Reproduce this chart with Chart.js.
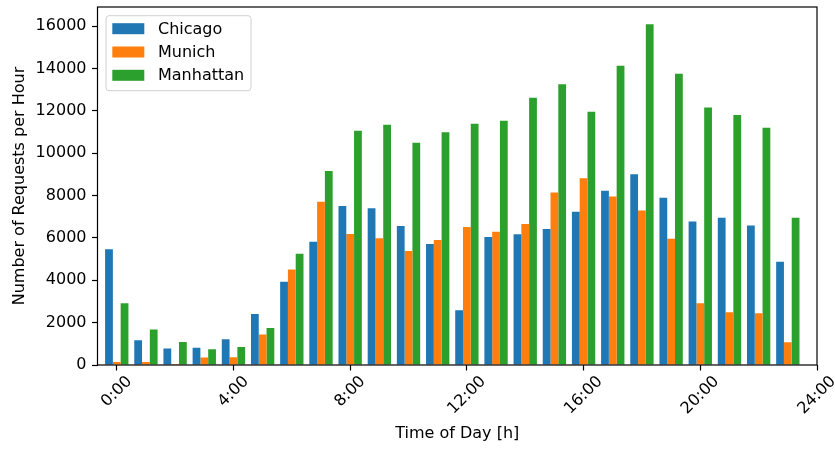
<!DOCTYPE html>
<html>
<head>
<meta charset="utf-8">
<script src="https://cdn.jsdelivr.net/npm/chart.js@4"></script>
<style>
  html, body { margin: 0; padding: 0; background: #fff; }
  #wrap { width: 835px; height: 449px; }
</style>
</head>
<body>
<div id="wrap"><canvas id="requestsChart" width="835" height="449"></canvas></div>
<script>
// Hourly request counts per city
const hours = [0, 1, 2, 3, 4, 5, 6, 7, 8, 9, 10, 11, 12, 13, 14, 15, 16, 17, 18, 19, 20, 21, 22, 23];
const chicago = [5460, 1170, 780, 820, 1210, 2410, 3930, 5820, 7510, 7400, 6560, 5710,
                 2590, 6040, 6170, 6420, 7240, 8220, 9000, 7900, 6770, 6950, 6580, 4870];
const munich = [140, 140, 50, 350, 360, 1440, 4510, 7710, 6180, 5980, 5380, 5900,
                6510, 6290, 6660, 8140, 8820, 7950, 7290, 5960, 2920, 2490, 2440, 1070];
const manhattan = [2920, 1670, 1090, 740, 850, 1750, 5250, 9160, 11060, 11340, 10490, 10990,
                   11390, 11530, 12620, 13250, 11950, 14130, 16080, 13750, 12160, 11800, 11200, 6950];

const xTicks = [0, 4, 8, 12, 16, 20, 24];
const yTicks = [0, 2000, 4000, 6000, 8000, 10000, 12000, 14000, 16000];

const FONT = "'DejaVu Sans', sans-serif";
const FONT_SIZE = 16;
Chart.defaults.font.family = FONT;
Chart.defaults.font.size = FONT_SIZE;
Chart.defaults.color = "#000";

function toPoints(values) {
  return hours.map((h, i) => ({ x: h, y: values[i] }));
}

// keep the plot area where the layout padding puts it
function noLabelPadding(scale) {
  scale.paddingTop = 0;
  scale.paddingBottom = 0;
  scale.paddingLeft = 0;
  scale.paddingRight = 0;
}

// frame, legend box and rotated hour labels
const decorations = {
  id: "decorations",
  afterDraw(chart) {
    const { ctx, chartArea } = chart;
    const xs = chart.scales.x;

    ctx.save();
    ctx.strokeStyle = "#000";
    ctx.lineWidth = 1.2;
    ctx.strokeRect(chartArea.left, chartArea.top, chartArea.right - chartArea.left, chartArea.bottom - chartArea.top);

    // hour labels, rotated 45deg and centred under the tick
    ctx.font = FONT_SIZE + "px " + FONT;
    ctx.fillStyle = "#000";
    ctx.textAlign = "center";
    ctx.textBaseline = "middle";
    xTicks.forEach((v) => {
      const label = v + ":00";
      const w = ctx.measureText(label).width;
      const px = xs.getPixelForValue(v);
      const cy = chartArea.bottom + 14 + w * 0.3536;
      ctx.save();
      ctx.translate(px, cy);
      ctx.rotate(-Math.PI / 4);
      ctx.fillText(label, 0, 0);
      ctx.restore();
    });

    // legend
    const bx = chartArea.left + 8.5;
    const by = chartArea.top + 8.7;
    const bw = 145;
    const bh = 75;
    ctx.beginPath();
    ctx.roundRect(bx, by, bw, bh, 3);
    ctx.fillStyle = "rgba(255,255,255,0.8)";
    ctx.fill();
    ctx.strokeStyle = "#d0d0d0";
    ctx.lineWidth = 1;
    ctx.stroke();

    chart.data.datasets.forEach((ds, i) => {
      const cy = by + 13 + i * 23.3;
      ctx.fillStyle = ds.backgroundColor;
      ctx.fillRect(bx + 6.3, cy - 5.5, 32, 11);
      ctx.fillStyle = "#000";
      ctx.textAlign = "left";
      ctx.fillText(ds.label, bx + 52, cy + 1);
    });
    ctx.restore();
  },
};

const ctx = document.getElementById("requestsChart").getContext("2d");

new Chart(ctx, {
  type: "bar",
  data: {
    datasets: [
      { label: "Chicago", data: toPoints(chicago), backgroundColor: "#1f77b4" },
      { label: "Munich", data: toPoints(munich), backgroundColor: "#ff7f0e" },
      { label: "Manhattan", data: toPoints(manhattan), backgroundColor: "#2ca02c" },
    ],
  },
  options: {
    responsive: false,
    animation: false,
    devicePixelRatio: 1,
    layout: { padding: { top: 7, right: 18, left: 0, bottom: 0 } },
    datasets: {
      bar: { categoryPercentage: 0.8, barPercentage: 1.0, borderWidth: 0 },
    },
    plugins: {
      legend: { display: false },
      tooltip: { enabled: false },
    },
    scales: {
      x: {
        type: "linear",
        offset: false,
        min: -0.66,
        max: 24,
        afterBuildTicks: (scale) => {
          scale.ticks = xTicks.map((v) => ({ value: v }));
        },
        afterFit: (scale) => {
          scale.height = 84;
          noLabelPadding(scale);
        },
        grid: {
          offset: false,
          drawOnChartArea: false,
          drawTicks: true,
          tickLength: 5.5,
          tickWidth: 1.2,
          tickColor: "#000",
        },
        border: { display: false },
        ticks: {
          display: false,
          autoSkip: false,
        },
        title: {
          display: true,
          text: "Time of Day [h]",
          color: "#000",
          font: { size: FONT_SIZE },
          padding: { top: 0, bottom: 5.4 },
        },
      },
      y: {
        min: 0,
        max: 16900,
        afterBuildTicks: (scale) => {
          scale.ticks = yTicks.map((v) => ({ value: v }));
        },
        afterFit: (scale) => {
          scale.width = 97.5;
          noLabelPadding(scale);
        },
        grid: {
          drawOnChartArea: false,
          drawTicks: true,
          tickLength: 5.5,
          tickWidth: 1.2,
          tickColor: "#000",
        },
        border: { display: false },
        ticks: {
          color: "#000",
          padding: 5.5,
          callback: (v) => String(v),
        },
        title: {
          display: true,
          text: "Number of Requests per Hour",
          color: "#000",
          font: { size: FONT_SIZE },
          padding: { top: 10.5, bottom: 0 },
        },
      },
    },
  },
  plugins: [decorations],
});
</script>
</body>
</html>
